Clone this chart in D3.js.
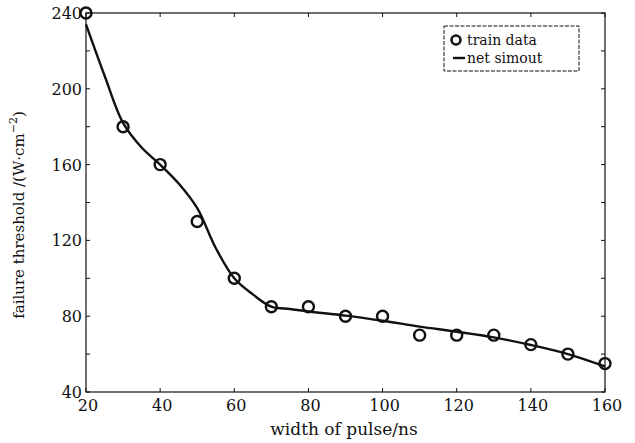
<!DOCTYPE html>
<html><head><meta charset="utf-8">
<script src="https://cdn.jsdelivr.net/npm/d3@7"></script>
<style>body{margin:0;background:#fff}svg{display:block}</style>
</head><body><svg id="c" width="635" height="443"></svg>
<script>
const trainX = [20,30,40,50,60,70,80,90,100,110,120,130,140,150,160];
const trainY = [240,180,160,130,100,85,85,80,80,70,70,70,65,60,55];
const simX = [20,25,30,35,40,45,50,55,60,65,70,75,80,90,100,110,120,130,140,150,160];
const simY = [234,207,182,169,160,150,137,116,100,91.5,85,83.8,82.5,80.3,77.6,74.5,71.8,68.8,64.8,60,53.5];
const xTicks = [20,40,60,80,100,120,140,160];
const yTickLabels = [40,80,120,160,200,240];
const yTicksMinor = [40,60,80,100,120,140,160,180,200,220,240];

const svg = d3.select("#c");
const FONT = "'DejaVu Serif'";
const L=86, R=605, T=13, B=392;
const x = d3.scaleLinear().domain([20,160]).range([L,R]);
const y = d3.scaleLinear().domain([40,240]).range([B,T]);
const ink="#111";

// frame
svg.append("rect").attr("x",L).attr("y",T).attr("width",R-L).attr("height",B-T)
  .attr("fill","none").attr("stroke",ink).attr("stroke-width",1.2);

// ticks (inward)
const g = svg.append("g").attr("stroke",ink).attr("stroke-width",1);
xTicks.forEach(t=>{
  g.append("line").attr("x1",x(t)).attr("x2",x(t)).attr("y1",B).attr("y2",B-4);
  g.append("line").attr("x1",x(t)).attr("x2",x(t)).attr("y1",T).attr("y2",T+4);
});
yTicksMinor.forEach(t=>{
  g.append("line").attr("y1",y(t)).attr("y2",y(t)).attr("x1",L).attr("x2",L+4);
  g.append("line").attr("y1",y(t)).attr("y2",y(t)).attr("x1",R).attr("x2",R-4);
});

// tick labels
svg.append("g").selectAll("text").data(xTicks).join("text")
  .attr("x",d=>x(d)+2).attr("y",411).attr("text-anchor","middle")
  .style("font-family",FONT).style("font-size","16px").attr("fill",ink).text(d=>d);
svg.append("g").selectAll("text").data(yTickLabels).join("text")
  .attr("x",L-4).attr("y",d=>y(d)+6).attr("text-anchor","end")
  .style("font-family",FONT).style("font-size","16px").attr("fill",ink).text(d=>d);

// axis titles
svg.append("text").attr("x",344).attr("y",435).attr("text-anchor","middle")
  .style("font-family",FONT).style("font-size","17px").attr("fill",ink)
  .text("width of pulse/ns");
const yl = svg.append("text").attr("transform","translate(24,215) rotate(-90)")
  .attr("text-anchor","middle").style("font-family",FONT).style("font-size","15px").attr("fill",ink);
yl.append("tspan").text("failure threshold /(W\u00b7cm");
yl.append("tspan").attr("dy",-7).style("font-size","11px").text("\u22122");
yl.append("tspan").attr("dy",7).text(")");

// simulated curve
const simData = simX.map((v,i)=>[v,simY[i]]);
svg.append("path").datum(simData)
  .attr("d", d3.line().x(d=>x(d[0])).y(d=>y(d[1])).curve(d3.curveCatmullRom.alpha(0.5)))
  .attr("fill","none").attr("stroke",ink).attr("stroke-width",2.4);

// train data circles
svg.append("g").selectAll("circle").data(trainX.map((v,i)=>[v,trainY[i]])).join("circle")
  .attr("cx",d=>x(d[0])).attr("cy",d=>y(d[1])).attr("r",5.5)
  .attr("fill","none").attr("stroke",ink).attr("stroke-width",2.4);

// legend
const lg = svg.append("g");
lg.append("rect").attr("x",444).attr("y",26).attr("width",135).attr("height",45)
  .attr("fill","#fff").attr("stroke",ink).attr("stroke-width",1).attr("stroke-dasharray","4,1.5");
lg.append("circle").attr("cx",456).attr("cy",40).attr("r",4.5)
  .attr("fill","none").attr("stroke",ink).attr("stroke-width",2.6);
lg.append("text").attr("x",467).attr("y",45).style("font-family",FONT).style("font-size","14px")
  .attr("fill",ink).text("train data");
lg.append("line").attr("x1",453).attr("x2",465).attr("y1",58).attr("y2",58)
  .attr("stroke",ink).attr("stroke-width",2.4);
lg.append("text").attr("x",467).attr("y",63).style("font-family",FONT).style("font-size","14px")
  .attr("fill",ink).text("net simout");
</script></body></html>
